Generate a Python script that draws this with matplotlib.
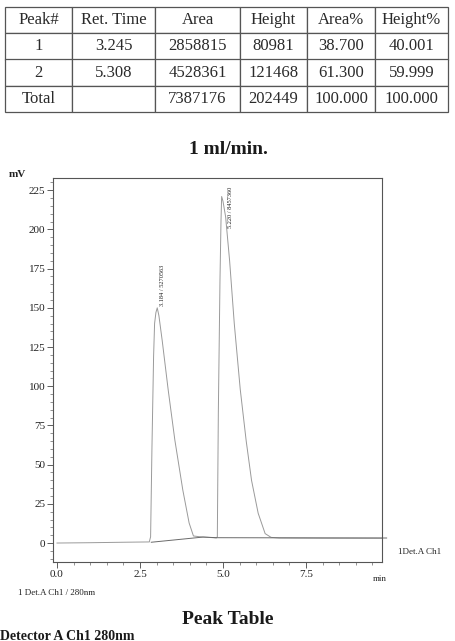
import numpy as np
import matplotlib
matplotlib.use('Agg')
import matplotlib.pyplot as plt

# peak table
col_labels = ['Peak#', 'Ret. Time', 'Area', 'Height', 'Area%', 'Height%']
table_rows = [
    ['1', '3.245', '2858815', '80981', '38.700', '40.001'],
    ['2', '5.308', '4528361', '121468', '61.300', '59.999'],
    ['Total', '', '7387176', '202449', '100.000', '100.000'],
]

# chromatogram trace (min, mV)
trace_t = [0.0, 1.0, 2.0, 2.78, 2.82, 2.86, 2.91, 2.94, 2.98, 3.02, 3.07, 3.17, 3.35,
           3.55, 3.79, 3.98, 4.11, 4.30, 4.50, 4.70, 4.80,
           4.83, 4.86, 4.91, 4.94, 4.96, 5.00, 5.08, 5.20, 5.34, 5.52, 5.70, 5.86,
           6.06, 6.27, 6.45, 6.70, 8.00, 9.79]
trace_mv = [0.0, 0.2, 0.5, 0.7, 4, 60, 119, 140, 147, 150, 145, 129, 97.6,
            65.7, 33.8, 12.8, 4.5, 4.0, 3.7, 3.4, 3.2,
            4, 83, 168, 205, 221, 218, 208, 180, 140, 98, 65, 40,
            19, 6, 3.6, 3.2, 3.1, 3.1]

# integration baseline
base_t = [2.84, 4.40, 4.82, 9.93]
base_mv = [0.5, 3.8, 3.4, 3.2]

peak_rt = [3.184, 5.220]
peak_area = [5270563, 8457360]
peak_label_y = [151, 201]

serif = ['Liberation Serif', 'DejaVu Serif']

fig = plt.figure(figsize=(4.55, 6.41), dpi=100)

# table
ax_tab = fig.add_axes([5 / 455, 1 - 112 / 641, 443 / 455, 105 / 641])
ax_tab.axis('off')
widths = np.array([67, 83, 85, 67, 68, 73], dtype=float)
tbl = ax_tab.table(cellText=table_rows, colLabels=col_labels, cellLoc='center',
                   colWidths=list(widths / widths.sum()), bbox=[0, 0, 1, 1])
tbl.auto_set_font_size(False)
for (r, c), cell in tbl.get_celld().items():
    cell.set_edgecolor('#555555')
    cell.set_linewidth(0.9)
    cell.get_text().set_fontsize(12)
    cell.get_text().set_family(serif)
    cell.get_text().set_color('#2a2a2a')

fig.text(228 / 455, 1 - 150 / 641, '1 ml/min.', ha='center', va='center',
         fontsize=14, fontweight='bold', family=serif, color='#1a1a1a')

# chromatogram
ax = fig.add_axes([53 / 455, 1 - 562 / 641, 329 / 455, 384 / 641])
ax.plot(trace_t, trace_mv, color='#9a9a9a', lw=0.7)
ax.plot(base_t, base_mv, color='#6a6a6a', lw=0.7, clip_on=False)
for rt, area, ly in zip(peak_rt, peak_area, peak_label_y):
    ax.text(rt, ly, f'{rt:.3f} / {area}', rotation=90, ha='center', va='bottom',
            fontsize=4.6, family=serif, color='#222222')

ax.set_xlim(-0.12, 9.79)
ax.set_ylim(-12.1, 232.8)
ax.set_xticks([0.0, 2.5, 5.0, 7.5])
ax.set_xticklabels(['0.0', '2.5', '5.0', '7.5'])
ax.set_xticks(np.arange(0, 9.8, 0.5), minor=True)
ax.set_yticks(np.arange(0, 226, 25))
ax.set_yticks(np.arange(-10, 231, 5), minor=True)
ax.tick_params(which='major', length=4, width=0.6, color='#444444', labelsize=8,
               labelcolor='#222222', pad=1.5)
ax.tick_params(which='minor', length=2, width=0.5, color='#666666')
for lab in ax.get_xticklabels() + ax.get_yticklabels():
    lab.set_family(serif)
for sp in ax.spines.values():
    sp.set_color('#555555')
    sp.set_linewidth(0.8)

fig.text(17 / 455, 1 - 175 / 641, 'mV', ha='center', va='center', fontsize=8,
         fontweight='bold', family=serif, color='#222222')
fig.text(380 / 455, 1 - 579 / 641, 'min', ha='center', va='center', fontsize=6.5,
         family=serif, color='#222222')
fig.text(398 / 455, 1 - 552 / 641, '1Det.A Ch1', ha='left', va='center', fontsize=6.5,
         family=serif, color='#222222')
fig.text(18 / 455, 1 - 593 / 641, '1 Det.A Ch1 / 280nm', ha='left', va='center',
         fontsize=6.5, family=serif, color='#222222')

fig.text(228 / 455, 1 - 619 / 641, 'Peak Table', ha='center', va='center',
         fontsize=14, fontweight='bold', family=serif, color='#1a1a1a')
fig.text(0, 1.5 / 641, 'Detector A Ch1 280nm', ha='left', va='baseline',
         fontsize=10, fontweight='bold', family=serif, color='#1a1a1a')

fig.savefig('out.png', dpi=100)
